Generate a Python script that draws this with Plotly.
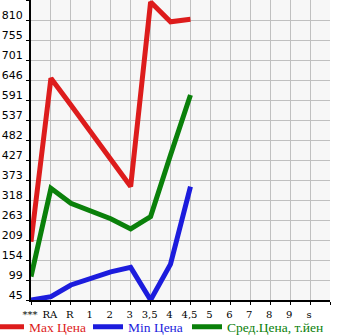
import plotly.graph_objects as go

categories = ["***", "RA", "R", "1", "2", "3", "3,5", "4", "4,5", "5", "6", "7", "8", "9", "s"]
max_price = [204, 651, 578, 504, 430, 355, 859, 805, 812]
min_price = [45, 54, 86, 105, 122, 134, 45, 143, 355]
avg_price = [109, 350, 309, 289, 267, 239, 273, 441, 605]
y_tick_labels = ["45", "99", "154", "209", "263", "318", "373", "427", "482", "537", "591", "646", "701", "755", "810"]

y_min = 45.0
y_step = (810.0 - 45.0) / 14
y_tickvals = [y_min + i * y_step for i in range(16)]
y_ticktext = y_tick_labels + [""]

RED = "#dd1c1c"
BLUE = "#1c1cdd"
GREEN = "#0a800a"

x_idx = list(range(len(categories)))

L, R, T, B = 31, 15, 0, 35
W, H = 345, 335
PW = W - L - R
PH = H - T - B

def px_x(p):
    return (p - L) / PW

def px_y(p):
    return (PH + T - p) / PH

fig = go.Figure()
series = [
    ("Max Цена", max_price, RED, "legend", -2),
    ("Min Цена", min_price, BLUE, "legend2", 97),
    ("Сред.Цена, т.йен", avg_price, GREEN, "legend3", 196),
]
legend_font = dict(family="Liberation Serif", size=13.5)
layout_legends = {}
for name, vals, col, lg, xpos in series:
    fig.add_trace(go.Scatter(
        x=x_idx[:len(vals)], y=vals, mode="lines",
        name=f'<span style="color:{col}">{name}</span>',
        line=dict(color=col, width=5),
        legend=lg,
    ))
    layout_legends[lg] = dict(
        x=px_x(xpos - 9), xanchor="left", y=px_y(327), yanchor="middle",
        font=legend_font, itemwidth=30, bgcolor="rgba(0,0,0,0)",
        borderwidth=0,
    )

fig.update_layout(
    width=W, height=H,
    margin=dict(l=L, r=R, t=T, b=B, autoexpand=False),
    paper_bgcolor="white",
    plot_bgcolor="#f7f7f7",
    showlegend=True,
    font=dict(family="DejaVu Sans", size=11, color="black"),
    **layout_legends,
)
fig.update_xaxes(
    range=[0, 15], tickmode="array",
    tickvals=list(range(16)), ticktext=categories + [""],
    showgrid=True, gridcolor="#c0c0c0", gridwidth=1,
    showline=True, linecolor="black", linewidth=2,
    ticks="outside", ticklen=3, tickcolor="black",
    zeroline=False, tickfont=dict(family="DejaVu Serif", size=10),
    ticklabelstandoff=1, ticklabelshift=-1,
    automargin=False, fixedrange=True,
)
fig.update_yaxes(
    range=[y_tickvals[0], y_tickvals[-1]], tickmode="array",
    tickvals=y_tickvals, ticktext=y_ticktext,
    showgrid=True, gridcolor="#c0c0c0", gridwidth=1,
    showline=True, linecolor="black", linewidth=2,
    ticks="outside", ticklen=3, tickcolor="black",
    zeroline=False, ticklabelshift=-5, ticklabelstandoff=1,
    tickfont=dict(family="DejaVu Sans", size=11),
    automargin=False, fixedrange=True,
)

fig.write_html("out.html", config={"displayModeBar": False})
